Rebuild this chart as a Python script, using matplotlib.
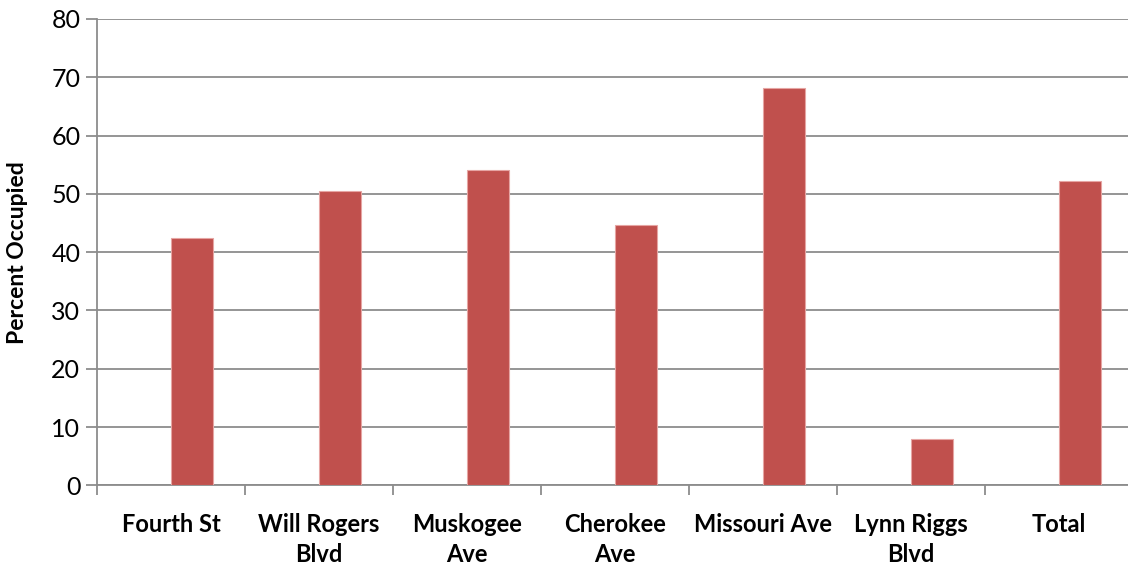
import matplotlib.pyplot as plt
import numpy as np

streets = ['Fourth St', 'Will Rogers\nBlvd', 'Muskogee\nAve', 'Cherokee\nAve',
           'Missouri Ave', 'Lynn Riggs\nBlvd', 'Total']
occupied = [42.5, 50.5, 54.1, 44.7, 68.2, 7.9, 52.2]

plt.rcParams['font.family'] = ['Lato', 'DejaVu Sans']

fig = plt.figure(figsize=(11.28, 5.68), dpi=100)
W, H = 1128, 568
ax = fig.add_axes([97 / W, (568 - 485.3) / H, (1133 - 97) / W, (485.3 - 19) / H])

x = np.arange(len(streets))
# second series of a clustered pair: bar sits just right of the category centre
ax.bar(x + 0.5 + 0.142, occupied, width=0.284, color='#C0504D',
       edgecolor='#E6A5A3', linewidth=0.8, zorder=3)

ax.set_xlim(0, len(streets))
ax.set_ylim(0, 80)
ax.set_yticks(range(0, 81, 10))
ax.yaxis.grid(True, color='#8C8C8C', linewidth=1.3, zorder=0)

ax.set_xticks(np.arange(len(streets) + 1))
ax.set_xticklabels([])
ax.set_xticks(x + 0.5, minor=True)
ax.set_xticklabels(streets, minor=True, fontsize=17, fontweight='bold',
                   linespacing=1.35)
ax.tick_params(axis='x', which='minor', length=0, pad=20)
ax.tick_params(axis='x', which='major', length=7, width=1.3, color='#8C8C8C')
ax.tick_params(axis='y', length=8, width=1.3, color='#8C8C8C', labelsize=18, pad=4)

for side in ['top', 'right']:
    ax.spines[side].set_visible(False)
for side in ['left', 'bottom']:
    ax.spines[side].set_color('#8C8C8C')
    ax.spines[side].set_linewidth(1.3)

ax.set_ylabel('Percent Occupied', fontsize=16.5, fontweight='bold')
ax.yaxis.set_label_coords(-0.0665, 0.5)

fig.savefig('out.png', dpi=100)
